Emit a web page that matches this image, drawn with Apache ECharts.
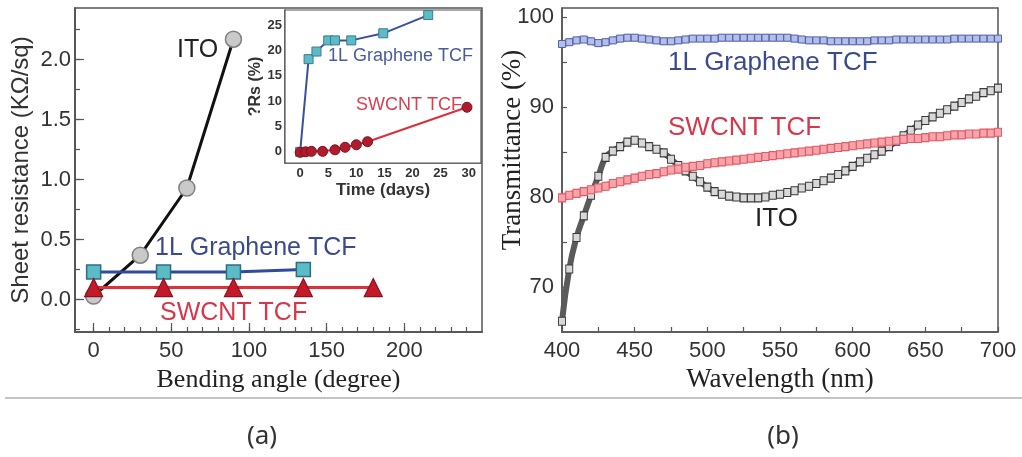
<!DOCTYPE html>
<html>
<head>
<meta charset="utf-8">
<title>TCF comparison</title>
<script src="https://cdn.jsdelivr.net/npm/echarts@6/dist/echarts.min.js"></script>
<style>
  html, body { margin: 0; padding: 0; background: #fff; }
  #chart { width: 1022px; height: 457px; }
</style>
</head>
<body>
<div id="chart"></div>
<script>
// (a) sheet resistance vs bending angle
var itoAngle = [0, 30, 60, 90];
var itoRs = [0.03, 0.37, 0.93, 2.17];
var grapheneAngle = [0, 45, 90, 135];
var grapheneRs = [0.23, 0.23, 0.23, 0.25];
var swcntAngle = [0, 45, 90, 135, 180];
var swcntRs = [0.10, 0.10, 0.10, 0.10, 0.10];

// inset: change of Rs vs time
var insetGrDays = [0, 1.5, 2.9, 5.0, 6.2, 9.1, 14.8, 22.8];
var insetGrRs = [0, 18.3, 19.8, 22.0, 22.0, 22.0, 23.4, 27.0];
var insetSwDays = [0, 1, 2, 4, 6.2, 8, 10, 12, 29.7];
var insetSwRs = [-0.1, 0.0, 0.1, 0.1, 0.4, 0.9, 1.4, 2.0, 8.8];

// (b) transmittance vs wavelength
var wavelength = [400, 405, 410, 415, 420, 425, 430, 435, 440, 445, 450, 455, 460, 465, 470, 475, 480, 485, 490, 495,
  500, 505, 510, 515, 520, 525, 530, 535, 540, 545, 550, 555, 560, 565, 570, 575, 580, 585, 590, 595,
  600, 605, 610, 615, 620, 625, 630, 635, 640, 645, 650, 655, 660, 665, 670, 675, 680, 685, 690, 695, 700];
var grapheneT = [97.0, 97.2, 97.4, 97.5, 97.3, 97.1, 97.2, 97.4, 97.6, 97.7, 97.7, 97.6, 97.5, 97.4, 97.3, 97.3, 97.4, 97.5, 97.6, 97.6,
  97.6, 97.6, 97.7, 97.7, 97.7, 97.7, 97.7, 97.7, 97.7, 97.7, 97.7, 97.7, 97.6, 97.5, 97.4, 97.4, 97.4, 97.3, 97.3, 97.3,
  97.3, 97.3, 97.3, 97.4, 97.4, 97.4, 97.5, 97.5, 97.5, 97.5, 97.5, 97.5, 97.5, 97.5, 97.6, 97.6, 97.6, 97.6, 97.6, 97.6, 97.6];
var swcntT = [79.9, 80.2, 80.4, 80.6, 80.8, 81.0, 81.2, 81.5, 81.7, 81.9, 82.1, 82.3, 82.5, 82.6, 82.8, 83.0, 83.1, 83.3, 83.4, 83.5,
  83.7, 83.8, 83.9, 84.0, 84.1, 84.2, 84.3, 84.4, 84.5, 84.6, 84.7, 84.8, 84.9, 85.0, 85.1, 85.2, 85.3, 85.4, 85.5, 85.6,
  85.7, 85.8, 85.9, 86.0, 86.1, 86.2, 86.3, 86.4, 86.5, 86.5, 86.6, 86.7, 86.7, 86.8, 86.9, 86.9, 87.0, 87.0, 87.1, 87.1, 87.2];
var itoT = [66.2, 72.0, 75.5, 77.9, 80.2, 82.3, 84.4, 85.1, 85.6, 86.1, 86.3, 86.0, 85.6, 85.3, 84.9, 84.2, 83.5, 82.9, 82.3, 81.7,
  81.1, 80.6, 80.3, 80.1, 80.0, 79.9, 79.9, 79.9, 80.0, 80.2, 80.3, 80.5, 80.7, 81.0, 81.2, 81.5, 81.8, 82.1, 82.5, 82.9,
  83.4, 83.9, 84.3, 84.7, 85.1, 85.6, 86.2, 86.8, 87.4, 88.0, 88.5, 88.9, 89.3, 89.7, 90.1, 90.5, 90.9, 91.2, 91.6, 91.8, 92.1];

// tick labels
var angleLabels = [0, 50, 100, 150, 200];
var rsLabels = [0, 0.5, 1.0, 1.5, 2.0];
var dayLabels = [0, 5, 10, 15, 20, 25, 30];
var pctLabels = [0, 5, 10, 15, 20, 25];
var wlLabels = [400, 450, 500, 550, 600, 650, 700];
var tLabels = [70, 80, 90, 100];

function pairs(xs, ys) {
  var out = [];
  for (var i = 0; i < xs.length; i++) out.push([xs[i], ys[i]]);
  return out;
}

var axisCol = '#555';
var sans = 'Liberation Sans, Arial, sans-serif';
var serif = 'Liberation Serif, Times New Roman, serif';

function valAxis(o) {
  return {
    type: 'value',
    gridIndex: o.grid,
    min: o.min,
    max: o.max,
    position: o.pos,
    axisLine: { show: true, onZero: false, lineStyle: { color: axisCol, width: 1.5 } },
    axisTick: { show: true, inside: true, length: o.tickLen || 5, customValues: o.ticks, lineStyle: { color: axisCol, width: 1.2 } },
    axisLabel: {
      show: !!o.labels, customValues: o.labels, color: '#333', fontFamily: sans,
      fontSize: o.fs || 22, fontWeight: o.fw || 'normal', margin: o.margin || 6,
      formatter: o.fmt
    },
    splitLine: { show: false }
  };
}

function range(a, b, s) {
  var r = [];
  for (var v = a; v <= b + 1e-9; v += s) r.push(Math.round(v * 1000) / 1000);
  return r;
}

var chart = echarts.init(document.getElementById('chart'));

var option = {
  backgroundColor: '#fff',
  animation: false,
  grid: [
    { left: 75, top: 8, width: 407, height: 324, show: true, borderColor: axisCol, borderWidth: 1.5, backgroundColor: '#fff' },
    { left: 285, top: 10, width: 196, height: 153, show: true, borderColor: axisCol, borderWidth: 1.2, backgroundColor: '#fff', z: 5 },
    { left: 562, top: 8, width: 436, height: 324, show: true, borderColor: axisCol, borderWidth: 1.5, backgroundColor: '#fff' }
  ],
  xAxis: [
    Object.assign(valAxis({ grid: 0, min: -12, max: 250, pos: 'bottom', ticks: range(0, 240, 10), labels: angleLabels, margin: 8 }), {
      name: 'Bending angle (degree)', nameLocation: 'middle', nameGap: 32,
      nameTextStyle: { fontFamily: serif, fontSize: 26, color: '#222' }
    }),
    valAxis({ grid: 0, min: -12, max: 250, pos: 'bottom', ticks: angleLabels, tickLen: 9 }),
    Object.assign(valAxis({ grid: 1, min: -2.7, max: 32.2, pos: 'bottom', ticks: dayLabels, labels: dayLabels, fs: 13, fw: 'bold', margin: 4, tickLen: 4 }), {
      name: 'Time (days)', nameLocation: 'middle', nameGap: 19,
      nameTextStyle: { fontFamily: sans, fontSize: 17, fontWeight: 'bold', color: '#333' }
    }),
    Object.assign(valAxis({ grid: 2, min: 400, max: 700, pos: 'bottom', ticks: range(400, 700, 25), labels: wlLabels, margin: 8 }), {
      name: 'Wavelength (nm)', nameLocation: 'middle', nameGap: 32,
      nameTextStyle: { fontFamily: serif, fontSize: 27, color: '#222' }
    })
  ],
  yAxis: [
    Object.assign(valAxis({ grid: 0, min: -0.27, max: 2.43, pos: 'left', ticks: range(-0.25, 2.25, 0.25), labels: rsLabels, margin: 4,
      fmt: function (v) { return v.toFixed(1); } }), {
      name: 'Sheet resistance (KΩ/sq)', nameLocation: 'middle', nameGap: 42,
      nameTextStyle: { fontFamily: sans, fontSize: 24, color: '#333' }
    }),
    valAxis({ grid: 0, min: -0.27, max: 2.43, pos: 'left', ticks: rsLabels, tickLen: 9 }),
    Object.assign(valAxis({ grid: 1, min: -2.2, max: 28, pos: 'left', ticks: pctLabels, labels: pctLabels, fs: 13, fw: 'bold', margin: 3, tickLen: 4 }), {
      name: '?Rs (%)', nameLocation: 'middle', nameGap: 19,
      nameTextStyle: { fontFamily: sans, fontSize: 16, fontWeight: 'bold', color: '#333' }
    }),
    valAxis({ grid: 2, min: 65, max: 101, pos: 'left', ticks: range(70, 100, 5), labels: tLabels, margin: 8 })
  ],
  graphic: [
    { type: 'text', left: 177, top: 38, style: { text: 'ITO', font: '25px ' + sans, fill: '#222' } },
    { type: 'text', left: 155, top: 236, z: 10, style: { text: '1L Graphene TCF', font: '25px ' + sans, fill: '#3a4a8c' } },
    { type: 'text', left: 160, top: 301, z: 10, style: { text: 'SWCNT TCF', font: '25px ' + sans, fill: '#d8364a' } },
    { type: 'text', left: 328, top: 47, z: 10, style: { text: '1L Graphene TCF', font: '18px ' + sans, fill: '#4a5a9c' } },
    { type: 'text', left: 356, top: 96, z: 10, style: { text: 'SWCNT TCF', font: '18px ' + sans, fill: '#d8404e' } },
    { type: 'text', left: 668, top: 50, z: 10, style: { text: '1L Graphene TCF', font: '26px ' + sans, fill: '#3a4a8c' } },
    { type: 'text', left: 668, top: 115, z: 10, style: { text: 'SWCNT TCF', font: '26px ' + sans, fill: '#d8364a' } },
    { type: 'text', left: 755, top: 206, z: 10, style: { text: 'ITO', font: '26px ' + sans, fill: '#222' } },
    { type: 'text', x: 513, y: 150, rotation: Math.PI / 2,
      style: { text: 'Transmittance (%)', font: '27px ' + serif, fill: '#222', align: 'center', verticalAlign: 'middle' } },
    { type: 'line', shape: { x1: 5, y1: 398, x2: 1022, y2: 398 }, style: { stroke: '#c4c4c4', lineWidth: 2 } },
    { type: 'text', style: { text: '(a)', x: 262, y: 437, font: '26px Liberation Sans Narrow, Noto Sans, sans-serif', fill: '#333', align: 'center', verticalAlign: 'middle' } },
    { type: 'text', style: { text: '(b)', x: 783, y: 437, font: '26px Liberation Sans Narrow, Noto Sans, sans-serif', fill: '#333', align: 'center', verticalAlign: 'middle' } }
  ],
  series: [
    {
      name: 'ITO', type: 'line', xAxisIndex: 0, yAxisIndex: 0, data: pairs(itoAngle, itoRs),
      symbol: 'circle', symbolSize: 16,
      lineStyle: { color: '#111', width: 3 },
      itemStyle: { color: '#c9c9c9', borderColor: '#808080', borderWidth: 1.5 }
    },
    {
      name: '1L Graphene TCF', type: 'line', xAxisIndex: 0, yAxisIndex: 0, data: pairs(grapheneAngle, grapheneRs),
      symbol: 'rect', symbolSize: 14,
      lineStyle: { color: '#2f4c9c', width: 3 },
      itemStyle: { color: '#5cbcc6', borderColor: '#2d6c84', borderWidth: 1.5 }
    },
    {
      name: 'SWCNT TCF', type: 'line', xAxisIndex: 0, yAxisIndex: 0, data: pairs(swcntAngle, swcntRs),
      symbol: 'triangle', symbolSize: 18,
      lineStyle: { color: '#e0303c', width: 3 },
      itemStyle: { color: '#c31a2a', borderColor: '#8c1020', borderWidth: 1.2 }
    },
    {
      name: 'inset graphene', type: 'line', xAxisIndex: 2, yAxisIndex: 2, data: pairs(insetGrDays, insetGrRs), z: 6,
      symbol: 'rect', symbolSize: 9,
      lineStyle: { color: '#3a4fa0', width: 2 },
      itemStyle: { color: '#5cbcc6', borderColor: '#3a7a90', borderWidth: 1 }
    },
    {
      name: 'inset swcnt', type: 'line', xAxisIndex: 2, yAxisIndex: 2, data: pairs(insetSwDays, insetSwRs), z: 6,
      symbol: 'circle', symbolSize: 10,
      lineStyle: { color: '#d8303c', width: 2 },
      itemStyle: { color: '#b01c2c', borderColor: '#7c1020', borderWidth: 1 }
    },
    {
      name: 'ITO T', type: 'line', xAxisIndex: 3, yAxisIndex: 3, data: pairs(wavelength, itoT),
      symbol: 'rect', symbolSize: [7, 8], smooth: true,
      lineStyle: { color: '#5a5a5a', width: 6 },
      itemStyle: { color: '#d8d8d8', borderColor: '#3a3a3a', borderWidth: 1 }
    },
    {
      name: 'SWCNT T', type: 'line', xAxisIndex: 3, yAxisIndex: 3, data: pairs(wavelength, swcntT),
      symbol: 'rect', symbolSize: [7, 8], smooth: true,
      lineStyle: { color: '#f07c86', width: 8 },
      itemStyle: { color: '#f6a4ac', borderColor: '#e25a66', borderWidth: 1 }
    },
    {
      name: 'Graphene T', type: 'line', xAxisIndex: 3, yAxisIndex: 3, data: pairs(wavelength, grapheneT),
      symbol: 'rect', symbolSize: [7, 7], smooth: true,
      lineStyle: { color: '#8290d2', width: 7 },
      itemStyle: { color: '#b4bee8', borderColor: '#5262aa', borderWidth: 1 }
    }
  ]
};

chart.setOption(option);
</script>
</body>
</html>
